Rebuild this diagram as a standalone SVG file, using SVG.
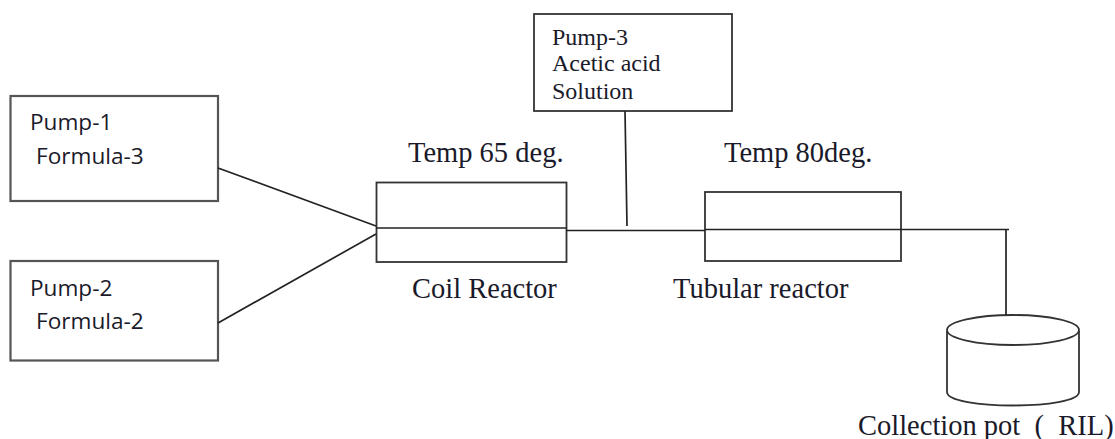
<svg xmlns="http://www.w3.org/2000/svg" width="1115" height="439" viewBox="0 0 1115 439">
<style>
.b{fill:#fff;stroke:#333;stroke-width:1.8}
.g{fill:#fff;stroke:#555;stroke-width:2.200}
.l{fill:none;stroke:#222;stroke-width:1.7}
.s{font-family:"Open Sans","Liberation Sans",sans-serif;font-size:22.600px;fill:#1a1a2a}
.t{font-family:"Liberation Serif",serif;font-size:28.500px;fill:#1a1a2a}
.m{font-family:"Liberation Serif",serif;font-size:24px;fill:#1a1a2a}
</style>
<rect width="1115" height="439" fill="#fff"/>
<g id="pump1"><rect class="g" x="10.500" y="96" width="207.500" height="105"/><text class="s" x="30" y="130">Pump-1</text><text class="s" x="36" y="164">Formula-3</text></g>
<g id="pump2"><rect class="g" x="10.500" y="261" width="207.500" height="99.500"/><text class="s" x="30" y="296">Pump-2</text><text class="s" x="36" y="329">Formula-2</text></g>
<g id="pump3"><rect class="b" x="534" y="14" width="198" height="97"/><text class="m" x="552" y="45">Pump-3</text><text class="m" x="552" y="71">Acetic acid</text><text class="m" x="552" y="99">Solution</text></g>
<g id="coil"><rect class="b" x="376.500" y="182.500" width="190" height="79.500"/><text class="t" x="408" y="162">Temp 65 deg.</text><text class="t" x="412" y="298">Coil Reactor</text></g>
<g id="tubular"><rect class="b" x="705" y="192" width="196" height="69"/><text class="t" x="724" y="162">Temp 80deg.</text><text class="t" x="673" y="298">Tubular reactor</text></g>
<g id="pot"><path class="b" d="M947 331V392C947 410 1079 410 1079 392V331"/><ellipse class="b" cx="1013" cy="330" rx="66" ry="15"/><text class="t" x="858" y="435" xml:space="preserve">Collection pot  (  RIL)</text></g>
<g id="connectors">
<path class="l" d="M218 168L376 226M218 323L376 234M376 228H566M566 230.500H705"/>
<path class="l" d="M705 229.500H1009" stroke-width="2.200"/>
<path class="l" d="M625 111L627 226M1006 230V315"/>
</g>
</svg>
